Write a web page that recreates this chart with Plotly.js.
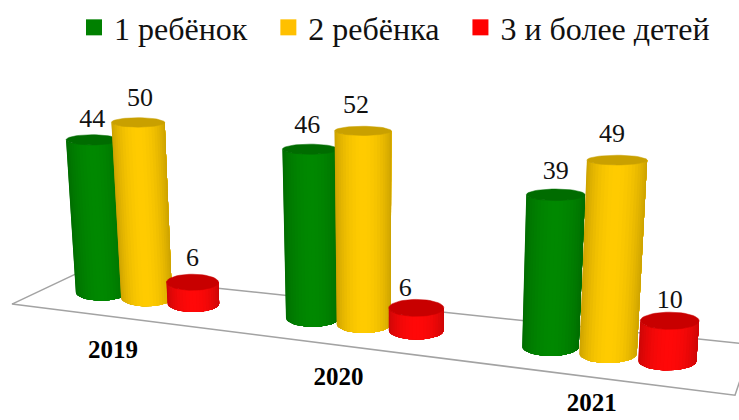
<!DOCTYPE html>
<html><head><meta charset="utf-8">
<script src="https://cdn.plot.ly/plotly-3.0.1.min.js"></script>
<style>html,body{margin:0;padding:0;background:#fff}#c{width:739px;height:420px}</style>
</head><body><div id="c"></div>
<script>
// ---- data ----
const years=['2019','2020','2021'];
const seriesNames=['1 ребёнок','2 ребёнка','3 и более детей'];
const one=[44,46,39];
const two=[50,52,49];
const three=[6,6,10];
const allSeries=[one,two,three];
// ---- style ----
const bodyColors=[[0,136,0],[255,203,0],[255,8,8]];
const topColors=['#006c00','#c9a000','#c80000'];
const swatches=['#008000','#ffc000','#ff0000'];
const serif='"Liberation Serif","Times New Roman",serif';
// ---- perspective scene -> plot coordinates ----
const K=0.055, seriesU=[0,0.225,0.45], V={x:384,y:5240};
const baseX=u=>101+200*u/(1-K*u);
const baseY=x=>291+0.122*(x-99.5);
const unitPx=u=>3.5/(1-K*u);
const radius=u=>7.2*unitPx(u);
const labelDx=[[0,2,0],[-3,-7,-11],[0,-5,0]];
const labelDy=[[3,0,0],[0,-2,4],[0,-2,4]];
function cylinder(v,g,s){
  const u=g+seriesU[s], bx=baseX(u), by=baseY(bx), h=v*unitPx(u), rx=radius(u);
  const lean=(bx-V.x)/(V.y-by);
  const ratio=hh=>0.33-0.00085*hh;
  const level=hh=>({cx:bx+lean*hh, cy:by-hh, rx:rx*(1+0.00025*hh), ry:rx*(1+0.00025*hh)*ratio(hh)});
  return {bot:level(0),top:level(h)};
}
function shade(c,t){
  const f=0.79+0.21*Math.pow(Math.sin(Math.PI*t),0.7);
  return `rgb(${c.map(x=>Math.round(x*f)).join(',')})`;
}
const hidden={showlegend:false,hoverinfo:'skip',cliponaxis:false};
const traces=[];
// floor frame
const floorX=[77,12,735,752,77], floorY=[272,303,395,344,272];
traces.push({type:'scatter',mode:'lines',x:floorX,y:floorY,line:{color:'#a3a3a3',width:1.5},showlegend:false,hoverinfo:'skip'});
// cylinders: painted left to right, each band reaching to the right edge so no seams show
const STRIPS=24;
const labX=[],labY=[],labT=[];
years.forEach((yr,g)=>{
  allSeries.forEach((vals,s)=>{
    const {bot,top}=cylinder(vals[g],g,s);
    const pt=(l,a)=>[l.cx-l.rx*Math.cos(a), l.cy+l.ry*Math.sin(a)];
    for(let i=0;i<STRIPS;i++){
      const p=[];
      for(let j=i;j<=STRIPS;j++)p.push(pt(top,Math.PI*j/STRIPS));
      for(let j=STRIPS;j>=i;j--)p.push(pt(bot,Math.PI*j/STRIPS));
      p.push(p[0]);
      const a=Math.PI*(i+0.5)/STRIPS;
      const col=shade(bodyColors[s],(1-Math.cos(a))/2);
      traces.push({type:'scatter',mode:'lines',x:p.map(q=>q[0]),y:p.map(q=>q[1]),fill:'toself',fillcolor:col,line:{color:col,width:0},...hidden});
    }
    const ex=[],ey=[];
    for(let i=0;i<=48;i++){const a=2*Math.PI*i/48;ex.push(top.cx+top.rx*Math.cos(a));ey.push(top.cy+top.ry*Math.sin(a));}
    traces.push({type:'scatter',mode:'lines',x:ex,y:ey,fill:'toself',fillcolor:topColors[s],line:{color:topColors[s],width:0.5},...hidden});
    labX.push(top.cx+labelDx[g][s]);labY.push(top.cy-23+labelDy[g][s]);labT.push(String(vals[g]));
  });
});
// value labels
traces.push({type:'scatter',mode:'text',x:labX,y:labY,text:labT,textposition:'middle center',textfont:{family:serif,size:26,color:'#111'},...hidden});
// category labels, on a line in front of the floor
const yearX=years.map((y,g)=>113+213*g/(1-K*g));
const yearY=yearX.map(x=>Math.min(351+0.122*(x-113),405));
traces.push({type:'scatter',mode:'text',x:yearX,y:yearY,text:years,textposition:'middle center',textfont:{family:serif,size:25,color:'#000',weight:700},...hidden});
// legend
seriesNames.forEach((n,i)=>traces.push({type:'scatter',mode:'markers',x:[null],y:[null],name:n+'\u00a0\u00a0',marker:{symbol:'square',size:16,color:swatches[i]}}));
Plotly.newPlot('c',traces,{
  width:739,height:420,margin:{l:0,r:0,t:0,b:0,pad:0},paper_bgcolor:'#fff',plot_bgcolor:'#fff',showlegend:true,
  legend:{orientation:'h',x:74/739,xanchor:'left',y:1+4/420,yanchor:'top',itemwidth:30,
    font:{family:serif,size:32,color:'#111'},bgcolor:'rgba(0,0,0,0)'},
  xaxis:{visible:false,range:[0,739],fixedrange:true},
  yaxis:{visible:false,range:[420,0],fixedrange:true}
},{displayModeBar:false,staticPlot:true});
</script></body></html>
